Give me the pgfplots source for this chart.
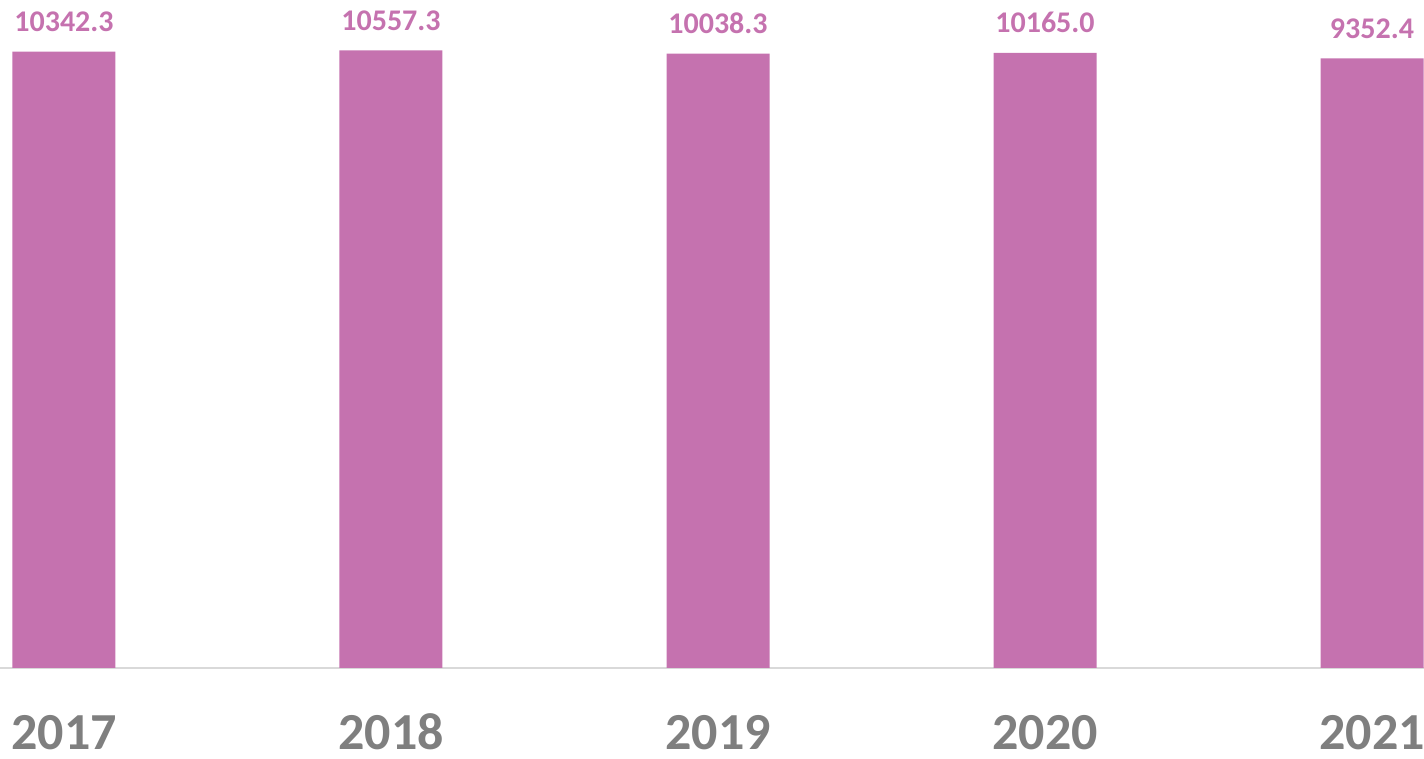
\documentclass[border=0pt]{standalone}
\usepackage{fontspec}
\setmainfont{Carlito}
\usepackage{pgfplots}
\pgfplotsset{compat=1.18}
\definecolor{barpink}{HTML}{C572AF}
\definecolor{labgray}{HTML}{7F7F7F}
\definecolor{axgray}{HTML}{D9D9D9}
\begin{document}
\begin{tikzpicture}
\useasboundingbox (0,0) rectangle (712pt,379.5pt);
\begin{axis}[
  at={(0pt,45.5pt)}, anchor=south west,
  scale only axis, width=712pt, height=334pt,
  ymode=log, ymin=1, ymax=22450,
  xmin=-0.1957, xmax=4.159,
  axis x line=bottom, axis y line=none,
  x axis line style={-, draw=axgray, line width=0.8pt},
  xtick={0,1,2,3,4},
  xticklabels={\textbf{2017},\textbf{2018},\textbf{2019},\textbf{2020},\textbf{2021}},
  xticklabel style={font=\fontsize{26}{30}\selectfont, text=labgray, anchor=base, inner sep=0pt, yshift=-41pt},
  major tick length=0pt,
  clip=false,
  ybar, bar width=51.5pt,
  point meta=explicit symbolic,
  nodes near coords={\pgfplotspointmeta},
  every node near coord/.append style={font=\fontsize{15}{18}\selectfont\bfseries, text=barpink, anchor=base, inner sep=0pt, yshift=10pt},
]
\addplot[fill=barpink, draw=none] table[x=x, y=v, meta=lab] {
x v lab
0 10342.3 10342.3
1 10557.3 10557.3
2 10038.3 10038.3
3 10165.0 10165.0
4 9352.4 9352.4
};
\end{axis}
\end{tikzpicture}
\end{document}
